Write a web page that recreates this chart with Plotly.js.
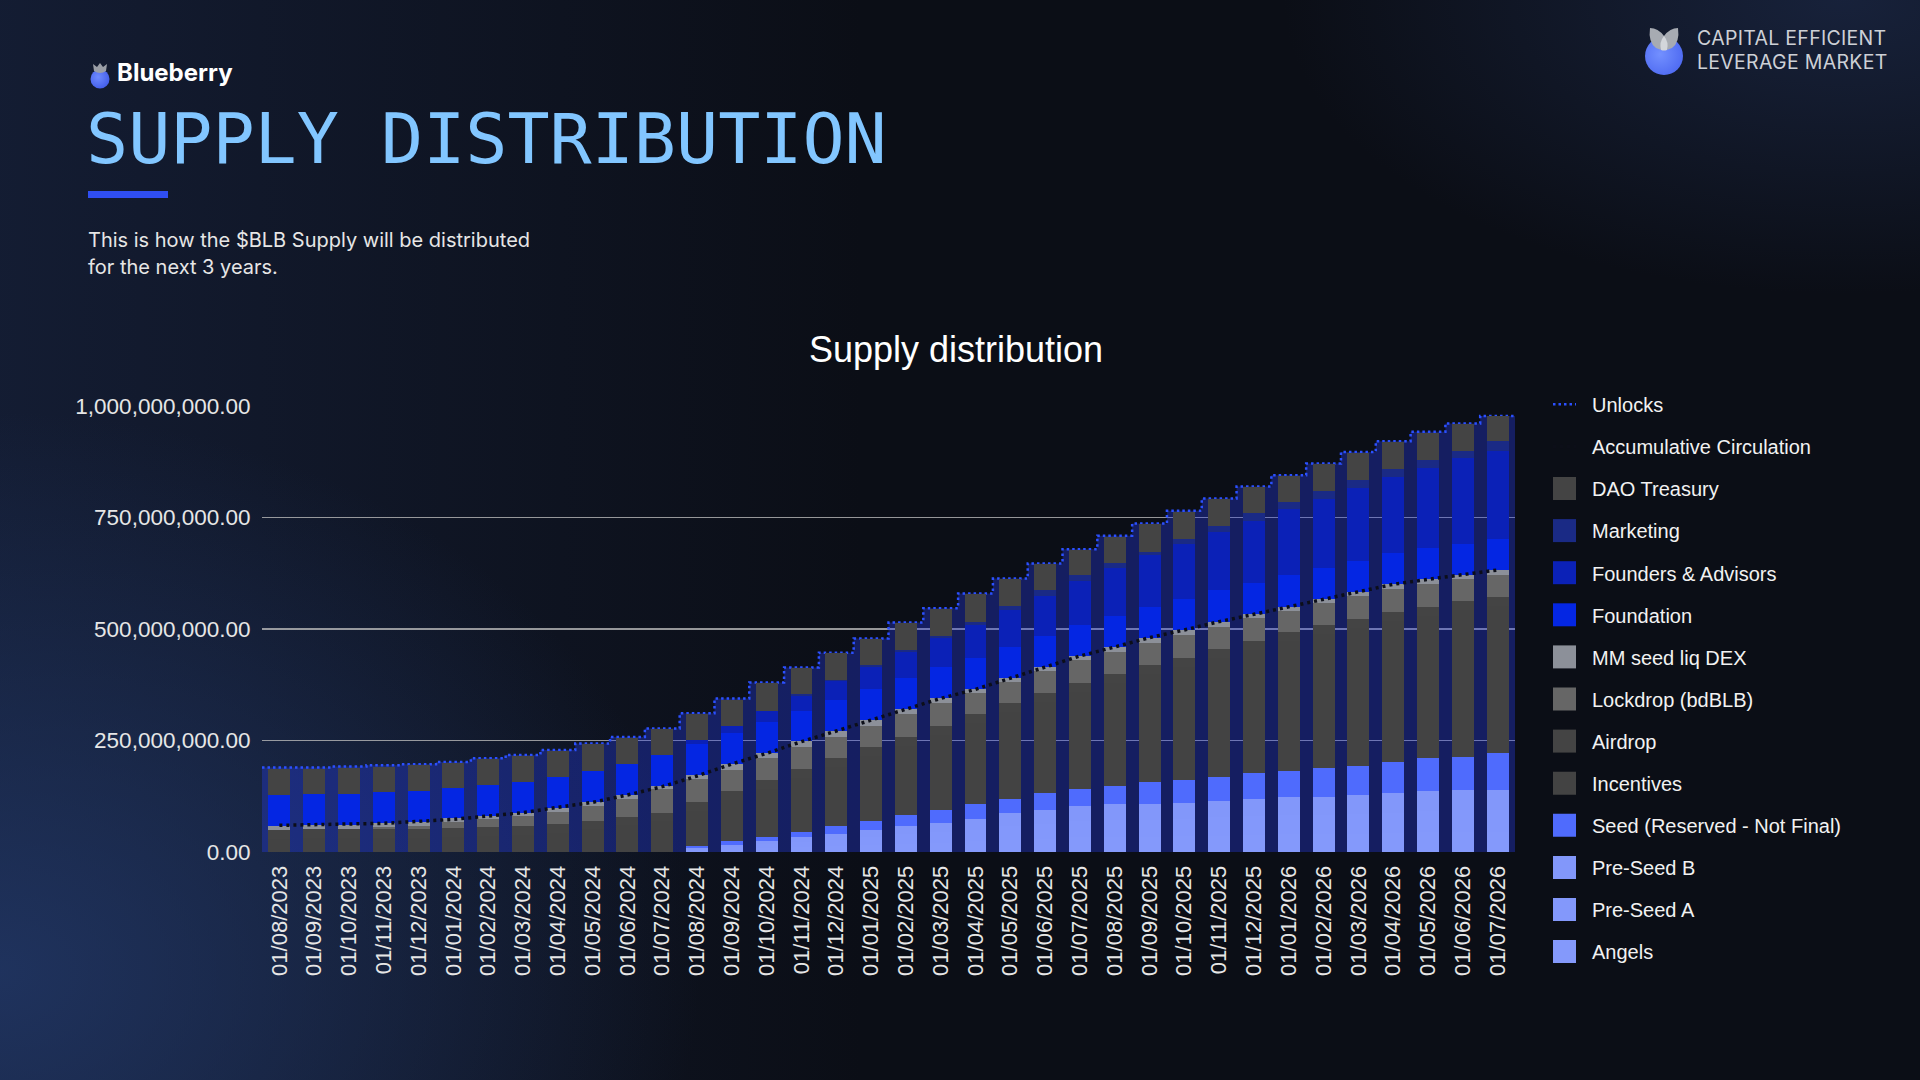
<!DOCTYPE html>
<html>
<head>
<meta charset="utf-8">
<script src="https://cdn.plot.ly/plotly-3.0.1.min.js"></script>
<style>
html,body{margin:0;padding:0;width:1920px;height:1080px;overflow:hidden;}
body{
  background-color:#0b0e16;
  background-image:
    radial-gradient(ellipse 1000px 800px at 0% 90%, rgba(34,56,104,0.80), rgba(34,56,104,0) 70%),
    radial-gradient(ellipse 800px 420px at 96% 0%, rgba(30,44,78,0.65), rgba(30,44,78,0) 70%),
    linear-gradient(90deg, rgba(24,36,66,0.65) 0%, rgba(12,15,24,0) 45%);
}
#wrap{position:relative;width:1920px;height:1080px;}
#chart{position:absolute;left:0;top:0;width:1920px;height:1080px;}
.hdr{position:absolute;white-space:nowrap;pointer-events:none;}
</style>
</head>
<body>
<div id="wrap">
  <div id="chart"></div>
  <svg class="hdr" style="left:88px;top:60px" width="24" height="30" viewBox="0 0 24 30">
    <defs><radialGradient id="bb1" cx="0.4" cy="0.4" r="0.7"><stop offset="0" stop-color="#6f8bff"/><stop offset="1" stop-color="#3f5ae8"/></radialGradient></defs>
    <circle cx="12" cy="19" r="9.5" fill="url(#bb1)"/>
    <path d="M5,4 L9,7 L12,3 L15,7 L19,4 L18,11 Q12,15 6,11 Z" fill="#9a9ea6"/>
  </svg>
  <div class="hdr" style="left:117px;top:58px;font:700 24px Inter,'Noto Sans',sans-serif;color:#ffffff;line-height:30px;">Blueberry</div>
  <div class="hdr" style="left:86px;top:104px;font:400 70px 'DejaVu Sans Mono','Liberation Mono',monospace;color:#82c6ff;line-height:70px;">SUPPLY DISTRIBUTION</div>
  <div class="hdr" style="left:88px;top:191px;width:80px;height:7px;background:#2f4ef2;"></div>
  <div class="hdr" style="left:88px;top:227px;font:400 20px Inter,'Noto Sans',sans-serif;color:#e6e6e6;line-height:27px;">This is how the $BLB Supply will be distributed<br>for the next 3 years.</div>
  <svg class="hdr" style="left:1642px;top:22px" width="46" height="54" viewBox="0 0 46 54">
    <defs><radialGradient id="bb2" cx="0.4" cy="0.45" r="0.7"><stop offset="0" stop-color="#7390ff"/><stop offset="1" stop-color="#4a66f0"/></radialGradient></defs>
    <circle cx="22" cy="34" r="19" fill="url(#bb2)"/>
    <path d="M8,6 Q16,6 22,14 Q28,6 36,6 Q38,20 30,26 Q22,30 14,26 Q6,20 8,6 Z" fill="#a7abb2"/>
    <path d="M22,14 Q17,20 19,28 Q22,29 25,28 Q27,20 22,14 Z" fill="#d3d6db"/>
  </svg>
  <div class="hdr" style="left:1697px;top:26px;font:400 19.5px Inter,'Noto Sans',sans-serif;color:#cdd0d6;line-height:24px;letter-spacing:0.3px;">CAPITAL EFFICIENT<br>LEVERAGE MARKET</div>
</div>
<script>
// ---- data (values in millions of tokens) ----
const months = ['01/08/2023','01/09/2023','01/10/2023','01/11/2023','01/12/2023',
  '01/01/2024','01/02/2024','01/03/2024','01/04/2024','01/05/2024','01/06/2024','01/07/2024',
  '01/08/2024','01/09/2024','01/10/2024','01/11/2024','01/12/2024',
  '01/01/2025','01/02/2025','01/03/2025','01/04/2025','01/05/2025','01/06/2025','01/07/2025',
  '01/08/2025','01/09/2025','01/10/2025','01/11/2025','01/12/2025',
  '01/01/2026','01/02/2026','01/03/2026','01/04/2026','01/05/2026','01/06/2026','01/07/2026'];

const angels = [0,0,0,0,0,0,0,0,0,0,0,0,
  3,5,8,11,13,16,19,21,24,28,30,33,34,34,35,37,38,40,40,41,42,44,44.5,44.5];
const preSeedA = [0,0,0,0,0,0,0,0,0,0,0,0,
  3.5,5.5,9,12,14,17,20.5,23,26,30.5,33,36,37.5,37.5,39,40.5,42,43.5,43.5,45,46,48,49,49];
const preSeedB = [0,0,0,0,0,0,0,0,0,0,0,0,
  3.2,5.2,8.4,11.4,13.4,16.3,18.8,21.8,24,28.2,31.2,34.1,35.4,35.4,36.6,37.6,38.8,40.6,40.6,41.8,43.5,44.8,45.5,45.5];
const seed = [0,0,0,0,0,0,0,0,0,0,0,0,
  3.7,8,8.5,11.2,17.9,20.9,24.7,28.4,32.9,32.9,37.4,37.4,41.1,49.3,50.8,53.8,57.5,57.5,65,65.8,69.5,73.2,74.7,83.7];
const incentives = [29.5,30.5,31,31.5,31,33.5,35,38,42.5,50.5,59.5,68.5,
  78,92,107,120,131.5,144.5,155.5,169,182,194,205.5,217.5,
  230.5,243,253.5,267,277.5,291.5,300,308,317,320,329,329.5];
const airdrop = [20,20,20,20,20,20,20,20,20,20,20,20,20,20,20,20,20,20,
  20,20,20,20,20,20,20,20,20,20,20,20,20,20,20,20,20,20];
const lockdrop = [0,0,0,5,7.5,13,18,22,27.5,33,39.5,52,
  51.5,48.5,50,49.5,48.5,48.5,50,50,47,48,48.5,52,
  50,50,52,49.5,50,48,48.5,52,51,50,49.5,48.5];
const mmSeedLiqDex = [9,10,10,9,9.5,9,8,7,9,8,9,7.5,
  9.7,12,11.2,12.7,12.7,12.7,11.2,11.2,9,8.2,9.7,9,
  11.2,11.2,10.5,11.2,9,9,9,9.7,11.2,11.2,9,12.7];
const foundation = [69.5,69.5,69.5,69.5,69,69,69,69.5,68.5,70,69.5,69.5,
  69.5,70.3,70.3,68.8,69.5,69.5,70.3,70.3,71,70.3,69.5,69.5,
  69.5,69.5,69.5,71,71,71,71,68.8,69.5,71,69.5,69.5];
const foundersAdvisors = [0,0,0,0,0,0,0,0,0,0,0,0,
  9,16.4,24.7,33.6,42.6,50.1,58.3,65.8,73.2,83,89.7,98.7,
  107.6,115.1,123.3,130.8,138.3,147.2,154.7,164.4,171.9,179.4,192,197];
const marketing = [0,0,0,0,0,0,0,0,0,0,0,0,0,0,0,
  3.7,2.2,3.7,4.5,3.7,7.5,7.5,12.7,13.5,12,7.5,11.2,13.5,17.2,16.4,17.2,17.2,16.4,17.2,16.4,21];
const daoTreasury = [59,57,57.5,56,57.5,56,58,59,59,60,59,57.5,
  58.3,58.3,62,58.3,59.8,57.5,59.8,60.5,61.3,61.3,57.5,56,
  58.3,62,61.3,59,58.3,58.3,59.8,61.3,61.3,61.3,60.5,56];
const unlocks = [189.5,189.5,191.5,194.5,196.5,202,210,217.5,228.5,243,258,277,
  311,344,380,413.5,447,478.5,514.5,546.5,579.5,613,647,679,
  709,736.5,765,792.5,819.5,845,871,897,921,942,961,977.5];
const accumCirculation = [59.8,60.5,62.8,64.3,68,73.2,80.7,88.2,100.2,111.4,127.8,146.5,
  170.4,197.3,221.2,247.4,271.3,296,319.9,344.5,364.7,389.4,415.5,439.5,
  459.7,480.6,497.8,516.5,532.9,550.1,566.5,583.7,600.2,611.4,621.1,632.3];
const yTicks = [0,250,500,750,1000];
const UNIT = 1e6;

// ---- chart ----
const M = a => a.map(v => v * UNIT);
const stackSeries = [
  ['Angels', angels, '#8499fb'],
  ['Pre-Seed A', preSeedA, '#8398fb'],
  ['Pre-Seed B', preSeedB, '#8297fa'],
  ['Seed (Reserved - Not Final)', seed, '#4f6bfd'],
  ['Incentives', incentives, '#434343'],
  ['Airdrop', airdrop, '#444444'],
  ['Lockdrop (bdBLB)', lockdrop, '#666666'],
  ['MM seed liq DEX', mmSeedLiqDex, '#8c9099'],
  ['Foundation', foundation, '#0426e3'],
  ['Founders & Advisors', foundersAdvisors, '#0b21b7'],
  ['Marketing', marketing, '#1a2a85'],
  ['DAO Treasury', daoTreasury, '#444444']
];

// step positions on the hidden linear axis: category edges
const edges = months.map((m, i) => i - 0.5).concat([months.length - 0.5]);
const stepVals = M(unlocks.concat([unlocks[unlocks.length - 1]]));

const traces = [];
traces.push({
  type:'scatter', mode:'lines', x:edges, y:stepVals, xaxis:'x', yaxis:'y',
  line:{shape:'hv', width:0, color:'rgba(0,0,0,0)'},
  fill:'tozeroy', fillcolor:'rgba(40,62,230,0.36)', showlegend:false, hoverinfo:'skip'
});
const nStack = stackSeries.length;
stackSeries.forEach(([name, vals, color], i) => {
  traces.push({
    type:'bar', name:name, x:months, y:M(vals), xaxis:'x2', yaxis:'y',
    marker:{color:color, line:{width:0}}, legendgroup:name, legendrank: 3 + (nStack - 1 - i)
  });
});
traces.push({
  type:'scatter', mode:'lines', name:'Accumulative Circulation', x:months, y:M(accumCirculation),
  xaxis:'x2', yaxis:'y', line:{color:'#0c0e18', width:3.5, dash:'3px,4px'}, legendgroup:'acc', legendrank:2
});
traces.push({
  type:'scatter', mode:'lines', name:'Unlocks', x:edges, y:stepVals,
  xaxis:'x', yaxis:'y', line:{shape:'hv', color:'#2b50ff', width:2.5, dash:'2.5px,3px'}, legendgroup:'unl', legendrank:1
});

const layout = {
  width:1920, height:1080,
  margin:{l:262, r:405, t:406, b:228, pad:0},
  paper_bgcolor:'rgba(0,0,0,0)', plot_bgcolor:'rgba(0,0,0,0)',
  font:{family:'"Liberation Sans", Arial, sans-serif', color:'#e6e6e6'},
  title:{text:'Supply distribution', font:{size:36, color:'#ffffff', family:'"Liberation Sans", Arial, sans-serif'},
         x:956/1920, xref:'container', xanchor:'center', y:1-349/1080, yref:'container', yanchor:'middle'},
  barmode:'stack', bargap:0.37,
  xaxis:{type:'linear', range:[-0.5, months.length - 0.5], visible:false, showgrid:false, zeroline:false},
  xaxis2:{type:'category', overlaying:'x', anchor:'y', side:'bottom', range:[-0.5, months.length - 0.5],
          tickangle:-90, tickfont:{size:22, color:'#e6e6e6'}, ticks:'outside', ticklen:4,
          tickcolor:'rgba(0,0,0,0)', showgrid:false, showline:false, zeroline:false},
  yaxis:{range:[0, 1000 * UNIT], tickvals:M(yTicks), tickformat:',.2f',
         tickfont:{size:22.5, color:'#e6e6e6'}, showgrid:true, gridcolor:'rgba(185,185,185,0.8)', gridwidth:1.5,
         zeroline:false, showline:false, ticks:'outside', ticklen:6, tickcolor:'rgba(0,0,0,0)'},
  legend:{x:1537/1920, xref:'container', xanchor:'left', y:1-384.8/1080, yref:'container', yanchor:'top',
          font:{size:20, color:'#f2f2f2', family:'"Liberation Sans", Arial, sans-serif'},
          bgcolor:'rgba(0,0,0,0)', traceorder:'grouped', tracegroupgap:13.1, itemwidth:45, maxheight:1000},
  showlegend:true
};

Plotly.newPlot('chart', traces, layout, {displayModeBar:false, staticPlot:true}).then(() => {
  document.querySelectorAll('.legend .legendpoints path').forEach(p => {
    const d = p.getAttribute('d') || '';
    if (p.classList.contains('legendbar') || d.indexOf('M6,6H-6V-6H6Z') === 0) {
      p.setAttribute('d', 'M11.5,11.5H-11.5V-11.5H11.5Z');
    }
  });
  document.querySelectorAll('.legend .legendlines path').forEach(p => {
    p.setAttribute('d', 'M16,0h23');
  });
});
</script>
</body>
</html>
